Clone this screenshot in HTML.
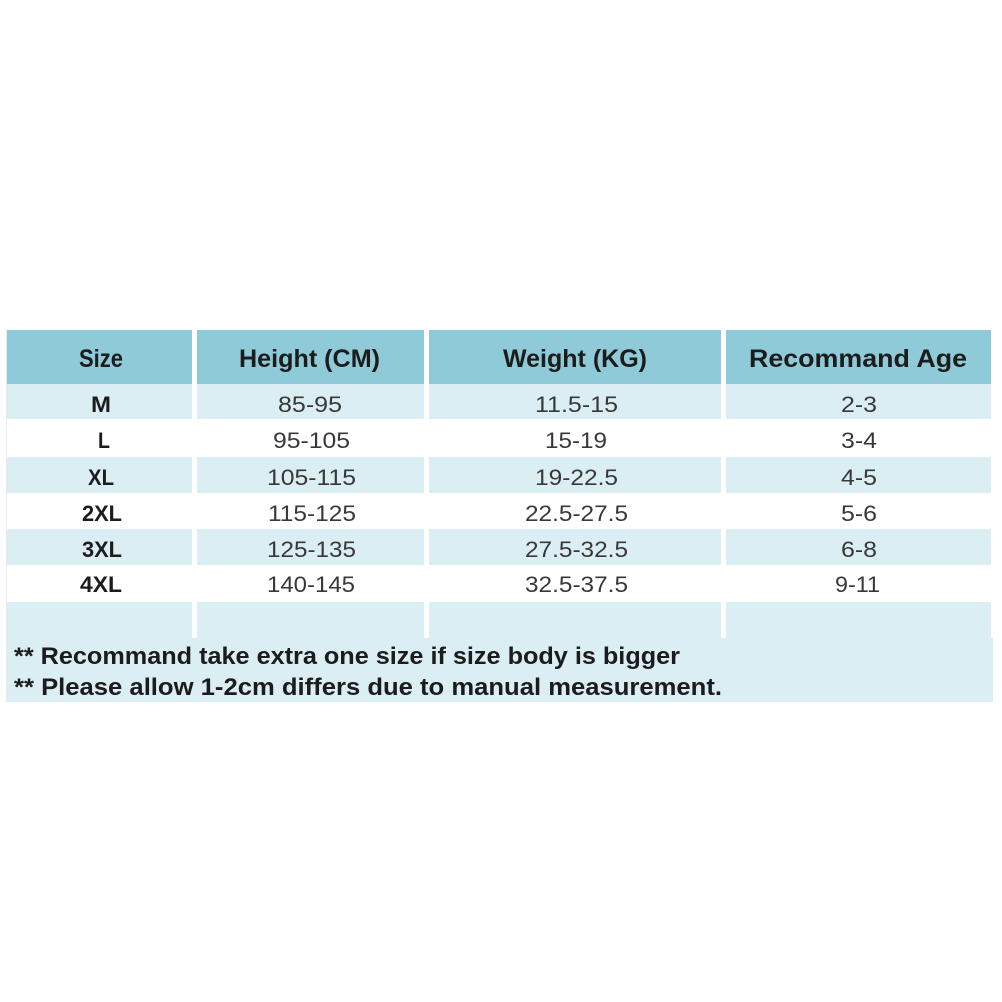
<!DOCTYPE html>
<html><head><meta charset="utf-8"><style>
html,body{margin:0;padding:0;background:#fff;}
svg{display:block;}
text{font-family:"Liberation Sans",sans-serif;}
.h{font-weight:bold;font-size:25px;fill:#1c1c1c;}
.s{font-weight:bold;font-size:22px;fill:#1c1c1c;}
.d{font-size:22.5px;fill:#383838;}
.n{font-weight:bold;font-size:24px;fill:#1c1c1c;}
</style></head><body>
<svg width="1002" height="1002" viewBox="0 0 1002 1002" xmlns="http://www.w3.org/2000/svg">
<rect width="1002" height="1002" fill="#fff"/>
<line x1="6.5" y1="330" x2="6.5" y2="702" stroke="#ececec" stroke-width="1"/>
<g fill="#8ecad8">
<rect x="7" y="330" width="185" height="54"/>
<rect x="197" y="330" width="227" height="54"/>
<rect x="429" y="330" width="292" height="54"/>
<rect x="726" y="330" width="265" height="54"/>
</g>
<g fill="#dbeef4">
<rect x="7" y="384" width="185" height="35"/>
<rect x="197" y="384" width="227" height="35"/>
<rect x="429" y="384" width="292" height="35"/>
<rect x="726" y="384" width="265" height="35"/>
<rect x="7" y="457" width="185" height="36"/>
<rect x="197" y="457" width="227" height="36"/>
<rect x="429" y="457" width="292" height="36"/>
<rect x="726" y="457" width="265" height="36"/>
<rect x="7" y="529" width="185" height="36"/>
<rect x="197" y="529" width="227" height="36"/>
<rect x="429" y="529" width="292" height="36"/>
<rect x="726" y="529" width="265" height="36"/>
<rect x="7" y="602" width="185" height="36"/>
<rect x="197" y="602" width="227" height="36"/>
<rect x="429" y="602" width="292" height="36"/>
<rect x="726" y="602" width="265" height="36"/>
<rect x="7" y="638" width="986" height="64"/>
</g>
<text class="h" x="79" y="367" textLength="44" lengthAdjust="spacingAndGlyphs">Size</text>
<text class="h" x="239" y="367" textLength="141" lengthAdjust="spacingAndGlyphs">Height (CM)</text>
<text class="h" x="503" y="367" textLength="144" lengthAdjust="spacingAndGlyphs">Weight (KG)</text>
<text class="h" x="749" y="367" textLength="218" lengthAdjust="spacingAndGlyphs">Recommand Age</text>
<text class="s" x="91" y="412" textLength="20" lengthAdjust="spacingAndGlyphs">M</text>
<text class="s" x="98" y="448" textLength="12" lengthAdjust="spacingAndGlyphs">L</text>
<text class="s" x="88" y="485" textLength="26" lengthAdjust="spacingAndGlyphs">XL</text>
<text class="s" x="82" y="521" textLength="40" lengthAdjust="spacingAndGlyphs">2XL</text>
<text class="s" x="82" y="557" textLength="40" lengthAdjust="spacingAndGlyphs">3XL</text>
<text class="s" x="80" y="592" textLength="42" lengthAdjust="spacingAndGlyphs">4XL</text>
<text class="d" x="278" y="412" textLength="64" lengthAdjust="spacingAndGlyphs">85-95</text>
<text class="d" x="273" y="448" textLength="77" lengthAdjust="spacingAndGlyphs">95-105</text>
<text class="d" x="267" y="485" textLength="89" lengthAdjust="spacingAndGlyphs">105-115</text>
<text class="d" x="268" y="521" textLength="88" lengthAdjust="spacingAndGlyphs">115-125</text>
<text class="d" x="267" y="557" textLength="89" lengthAdjust="spacingAndGlyphs">125-135</text>
<text class="d" x="267" y="592" textLength="88" lengthAdjust="spacingAndGlyphs">140-145</text>
<text class="d" x="535" y="412" textLength="83" lengthAdjust="spacingAndGlyphs">11.5-15</text>
<text class="d" x="545" y="448" textLength="62" lengthAdjust="spacingAndGlyphs">15-19</text>
<text class="d" x="535" y="485" textLength="83" lengthAdjust="spacingAndGlyphs">19-22.5</text>
<text class="d" x="525" y="521" textLength="103" lengthAdjust="spacingAndGlyphs">22.5-27.5</text>
<text class="d" x="525" y="557" textLength="103" lengthAdjust="spacingAndGlyphs">27.5-32.5</text>
<text class="d" x="525" y="592" textLength="103" lengthAdjust="spacingAndGlyphs">32.5-37.5</text>
<text class="d" x="841" y="412" textLength="36" lengthAdjust="spacingAndGlyphs">2-3</text>
<text class="d" x="841" y="448" textLength="36" lengthAdjust="spacingAndGlyphs">3-4</text>
<text class="d" x="841" y="485" textLength="36" lengthAdjust="spacingAndGlyphs">4-5</text>
<text class="d" x="841" y="521" textLength="36" lengthAdjust="spacingAndGlyphs">5-6</text>
<text class="d" x="841" y="557" textLength="36" lengthAdjust="spacingAndGlyphs">6-8</text>
<text class="d" x="835" y="592" textLength="45" lengthAdjust="spacingAndGlyphs">9-11</text>
<text class="n" x="14" y="664" textLength="666" lengthAdjust="spacingAndGlyphs">** Recommand take extra one size if size body is bigger</text>
<text class="n" x="14" y="695" textLength="708" lengthAdjust="spacingAndGlyphs">** Please allow 1-2cm differs due to manual measurement.</text>
</svg>
</body></html>
